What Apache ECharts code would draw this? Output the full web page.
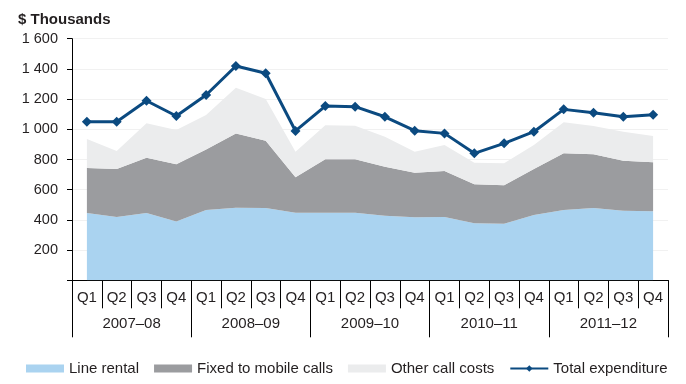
<!DOCTYPE html>
<html>
<head>
<meta charset="utf-8">
<script src="https://cdn.jsdelivr.net/npm/echarts@6/dist/echarts.min.js"></script>
<style>html,body{margin:0;padding:0;background:#fff}#c{width:686px;height:384px}</style>
</head>
<body>
<div id="c"></div>
<script>
var quarters = ['Q1','Q2','Q3','Q4','Q1','Q2','Q3','Q4','Q1','Q2','Q3','Q4','Q1','Q2','Q3','Q4','Q1','Q2','Q3','Q4'];
var years = ['2007–08','2008–09','2009–10','2010–11','2011–12'];
var lineRental = [445,420,445,390,465,480,478,448,447,447,427,418,420,378,375,432,465,478,460,458];
var fixedToMobile = [299,317,367,378,401,492,447,234,354,354,325,295,304,258,254,305,376,356,332,323];
var otherCallCosts = [192,119,228,227,228,303,276,170,225,223,199,139,172,143,146,159,205,188,192,175];
var totalExpenditure = [1050,1050,1189,1088,1227,1419,1371,989,1154,1150,1083,991,973,841,907,984,1132,1110,1083,1097];
var yTicks = [0,200,400,600,800,1000,1200,1400,1600];

var FONT = 'Liberation Sans, Arial, sans-serif';
var TXT = '#231f20';
var chart = echarts.init(document.getElementById('c'), null, {renderer:'canvas'});
function areaSeries(name, data, color) {
  return {
    name: name, type: 'line', stack: 'cost', data: data,
    symbol: 'none', showSymbol: false,
    color: color, itemStyle: {color: color},
    lineStyle: {width: 0, color: color},
    areaStyle: {color: color, opacity: 1},
    emphasis: {disabled: true}, z: 1, silent: true
  };
}
chart.setOption({
  animation: false,
  textStyle: {fontFamily: FONT},
  title: {
    text: '$ Thousands', left: 13, top: 7,
    textStyle: {fontFamily: FONT, fontSize: 15, fontWeight: 'bold', color: TXT}
  },
  grid: {left: 72, right: 18, top: 38.7, bottom: 103.7, containLabel: false},
  legend: {
    left: 21, top: 356, itemWidth: 38, itemHeight: 8, itemGap: 15,
    textStyle: {fontFamily: FONT, fontSize: 15, color: TXT},
    data: [
      {name: 'Line rental', icon: 'rect'},
      {name: 'Fixed to mobile calls', icon: 'rect'},
      {name: 'Other call costs', icon: 'rect'},
      {name: 'Total expenditure'}
    ],
    selectedMode: false
  },
  xAxis: [
    {
      type: 'category', data: quarters, boundaryGap: true, position: 'bottom',
      axisLine: {show: true, lineStyle: {color: '#000', width: 1}},
      axisTick: {show: true, interval: 0, length: 28, lineStyle: {color: '#000'}},
      axisLabel: {interval: 0, margin: 10, fontFamily: FONT, fontSize: 15, color: TXT},
      splitLine: {show: false}
    },
    {
      type: 'category', data: years, boundaryGap: true, position: 'bottom',
      axisLine: {show: false},
      axisTick: {show: true, interval: 0, length: 57, lineStyle: {color: '#000'}},
      axisLabel: {interval: 0, margin: 36, fontFamily: FONT, fontSize: 15, color: TXT},
      splitLine: {show: false}
    }
  ],
  yAxis: {
    type: 'value', min: yTicks[0], max: yTicks[yTicks.length-1], interval: 200,
    axisLine: {show: true, lineStyle: {color: '#000', width: 1}},
    axisTick: {show: true, length: 5, lineStyle: {color: '#000'}},
    axisLabel: {
      margin: 14, fontFamily: FONT, fontSize: 14.5, color: TXT,
      formatter: function (v) { if (v === 0) return ''; return String(v).replace(/\B(?=(\d{3})+(?!\d))/g, ' '); }
    },
    splitLine: {show: true, lineStyle: {color: '#f1f1f1', width: 1}}
  },
  series: [
    areaSeries('Line rental', lineRental, '#aad3f0'),
    areaSeries('Fixed to mobile calls', fixedToMobile, '#9b9c9f'),
    areaSeries('Other call costs', otherCallCosts, '#ebeced'),
    {
      name: 'Total expenditure', type: 'line', data: totalExpenditure,
      color: '#0b4a80',
      symbol: 'diamond', symbolSize: 10, showSymbol: true,
      itemStyle: {color: '#0b4a80'},
      lineStyle: {width: 3, color: '#0b4a80'},
      emphasis: {disabled: true}, z: 5
    }
  ]
});
</script>
</body>
</html>
